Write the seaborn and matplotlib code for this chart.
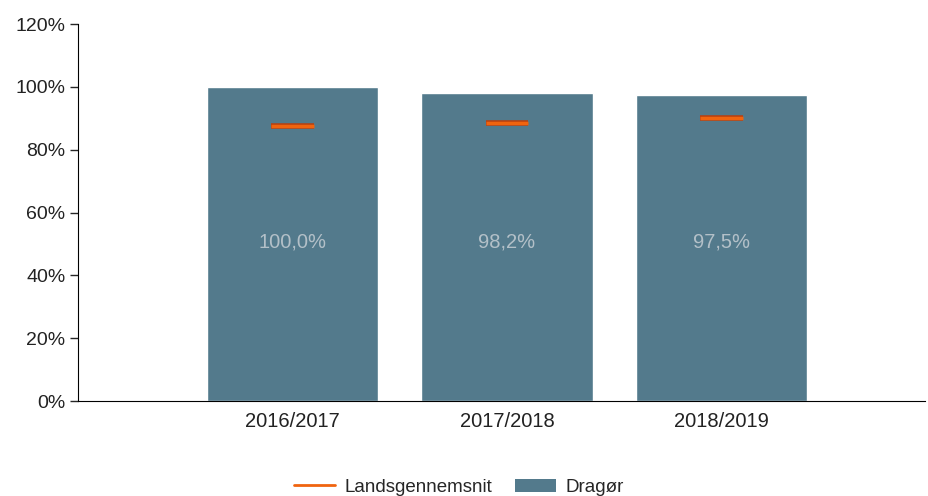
import matplotlib
matplotlib.use("Agg")
import matplotlib.pyplot as plt
import seaborn as sns
import pandas as pd
from matplotlib.lines import Line2D
from matplotlib.patches import Patch
import matplotlib.patheffects as pe

# data
years = ["2016/2017", "2017/2018", "2018/2019"]
dragoer = [100.0, 98.2, 97.5]
landsgennemsnit = [87.6, 88.5, 90.1]

bar_color = "#537a8c"
avg_color = "#f0640f"

sns.set_style("white")
plt.rcParams["font.family"] = ["Liberation Sans", "DejaVu Sans"]

df = pd.DataFrame({"year": years, "value": dragoer})

fig = plt.figure(figsize=(9.29, 4.96), dpi=100)
ax = fig.add_axes([0.084, 0.1915, 0.912, 0.760])

sns.barplot(data=df, x="year", y="value", color=bar_color, saturation=1,
            width=0.8, ax=ax)

# national average as short horizontal markers
for i, v in enumerate(landsgennemsnit):
    ax.hlines(v, i - 0.1, i + 0.1, color=avg_color, linewidth=2.5,
              path_effects=[pe.Stroke(linewidth=4, foreground="#b84010"), pe.Normal()],
              zorder=5)

# value labels in the bars
for i, v in enumerate(dragoer):
    ax.text(i, 50.5, f"{v:.1f}%".replace(".", ","), ha="center", va="center",
            color="#b3c0c8", fontsize=14.5)

ax.set_xlim(-1.0, 2.95)
ax.set_ylim(0, 120)
ax.set_yticks(range(0, 121, 20))
ax.set_yticklabels([f"{t}%" for t in range(0, 121, 20)], fontsize=14, color="#222222")
ax.tick_params(axis="y", length=6, width=1, direction="out", left=True, pad=3)
ax.tick_params(axis="x", length=0, labelsize=14.5, labelcolor="#222222", pad=8)
ax.set_xlabel("")
ax.set_ylabel("")

for s in ["top", "right"]:
    ax.spines[s].set_visible(False)
ax.spines["left"].set_color("black")
ax.spines["bottom"].set_color("black")

handles = [Line2D([0], [0], color=avg_color, linewidth=2),
           Patch(facecolor=bar_color, edgecolor="none")]
fig.legend(handles, ["Landsgennemsnit", "Dragør"], loc="center",
           bbox_to_anchor=(0.494, 0.018), ncol=2, frameon=False, fontsize=13.5,
           handlelength=2.2, columnspacing=1.2, handletextpad=0.5)

fig.savefig("out.png", dpi=100)
